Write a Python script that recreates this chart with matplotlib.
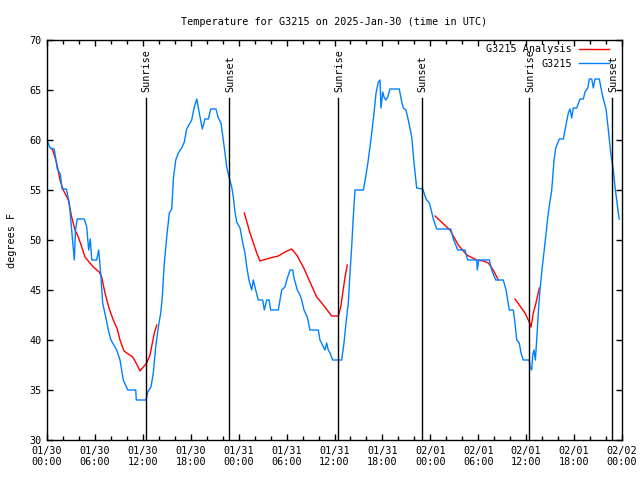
import numpy as np
import matplotlib
matplotlib.use("Agg")
from matplotlib import pyplot as plt
from matplotlib.ticker import MultipleLocator

# hours since 2025-01-30 00:00 UTC
obs_hours = [0.00, 0.38, 0.91, 1.29, 1.67, 1.88, 2.42, 2.79, 3.17, 3.42, 3.57, 3.79,
             4.67, 4.97, 5.22, 5.42, 5.60, 6.22, 6.47, 6.76, 6.97, 7.35, 7.68, 8.01,
             8.73, 9.14, 9.55, 10.11, 11.11, 11.18, 12.40, 12.61, 13.02, 13.31, 13.61,
             13.94, 14.24, 14.44, 14.65, 14.99, 15.31, 15.62, 15.82, 16.12, 16.44,
             16.87, 17.19, 17.49, 18.12, 18.44, 18.75, 19.07, 19.45, 19.78, 20.20,
             20.50, 21.16, 21.45, 21.79, 22.08, 22.29, 22.50, 22.79, 23.13, 23.33,
             23.54, 23.75, 24.17, 24.51, 24.79, 25.01, 25.29, 25.63, 25.83, 26.13,
             26.46, 27.01, 27.21, 27.51, 27.80, 28.01, 28.96, 29.18, 29.39, 29.80,
             30.02, 30.43, 30.77, 30.93, 31.34, 31.68, 31.89, 32.18, 32.59, 32.93,
             33.97, 34.18, 34.81, 35.02, 35.22, 35.44, 35.78, 36.90, 37.19, 37.44,
             37.73, 37.94, 38.15, 38.35, 38.57, 39.61, 39.91, 40.23, 40.66, 40.95,
             41.20, 41.49, 41.70, 41.82, 42.04, 42.20, 42.41, 42.66, 42.95, 44.11,
             44.42, 44.62, 44.95, 45.24, 45.67, 45.96, 46.29, 47.05, 47.46, 47.87,
             48.17, 48.37, 48.80, 50.55, 50.88, 51.43, 52.34, 52.68, 53.81, 53.88,
             54.06, 55.39, 55.68, 56.19, 57.14, 57.48, 57.89, 58.39, 58.60, 58.82,
             59.14, 59.35, 59.64, 60.39, 60.48, 60.69, 60.82, 60.98, 61.15, 61.32,
             61.52, 61.73, 62.02, 62.36, 62.77, 63.20, 63.49, 63.70, 64.15, 64.65,
             64.86, 65.28, 65.49, 65.70, 65.90, 66.33, 66.74, 67.16, 67.37, 67.71,
             67.91, 68.21, 68.41, 68.62, 69.16, 69.46, 69.66, 70.00, 70.29, 70.59,
             70.91, 71.12, 71.34, 71.54, 71.66]
obs_temp = [60.0, 59.2, 59.1, 57.1, 56.6, 55.1, 55.1, 53.7, 50.3, 48.0, 51.0, 52.1,
            52.1, 51.3, 49.0, 50.1, 48.0, 48.0, 49.0, 46.3, 43.7, 42.3, 41.0, 40.0,
            39.0, 38.0, 36.0, 35.0, 35.0, 34.0, 34.0, 34.8, 35.3, 36.7, 39.3,
            41.3, 42.7, 44.3, 47.3, 50.3, 52.7, 53.1, 56.1, 58.0, 58.7,
            59.2, 59.8, 61.1, 62.0, 63.3, 64.1, 62.7, 61.1, 62.1, 62.1,
            63.1, 63.1, 62.2, 61.7, 60.0, 58.7, 57.3, 56.3, 55.3, 54.3,
            52.8, 51.8, 51.2, 49.7, 48.7, 47.3, 46.0, 45.0, 46.0, 45.0,
            44.0, 44.0, 43.0, 44.0, 44.0, 43.0, 43.0, 44.0, 45.0, 45.3,
            46.0, 47.0, 47.0, 46.2, 45.0, 44.5, 44.0, 43.0, 42.3, 41.0,
            41.0, 40.0, 39.0, 39.7, 39.0, 38.7, 38.0, 38.0, 39.7, 41.7,
            43.7, 46.7, 49.3, 52.3, 55.0, 55.0, 56.3, 58.0, 60.7, 62.7,
            64.7, 65.8, 66.0, 63.2, 64.8, 64.3, 64.0, 64.3, 65.1, 65.1,
            63.8, 63.2, 63.0, 62.0, 60.3, 57.7, 55.2, 55.1, 54.1, 53.7,
            52.8, 52.1, 51.1, 51.1, 50.1, 49.0, 49.0, 48.0, 48.0, 47.0,
            48.0, 48.0, 47.0, 46.0, 46.0, 45.0, 43.0, 43.0, 41.7, 40.0,
            39.7, 38.7, 38.0, 38.0, 37.3, 37.0, 38.5, 39.0, 38.0, 40.0,
            42.7, 45.0, 47.3, 49.7, 52.7, 55.0, 58.0, 59.2, 60.1, 60.1,
            61.0, 62.7, 63.1, 62.2, 63.2, 63.2, 64.1, 64.1, 64.8, 65.2,
            66.1, 66.1, 65.2, 66.1, 66.1, 64.8, 64.1, 63.1, 61.0, 58.7,
            57.0, 55.3, 54.0, 52.7, 52.1]

# analysis comes in separate pieces (gaps between them)
ana_hours = [
    [0.59, 0.71, 1.21, 1.63, 2.04, 2.67, 3.09, 3.51, 3.92, 4.35, 4.76, 5.38, 5.80,
     6.55, 6.85, 7.26, 7.76, 8.30, 8.80, 9.14, 9.64, 10.18, 10.73, 11.23, 11.65,
     12.06, 12.48, 12.90, 13.19, 13.44, 13.74],
    [24.71, 25.42, 26.26, 26.67, 27.92, 28.96, 29.80, 30.64, 31.27, 32.09, 32.93,
     33.77, 34.60, 35.65, 36.48, 36.78, 37.03, 37.32, 37.60],
    [48.59, 50.46, 51.50, 52.56, 53.81, 54.63, 55.26, 55.88, 56.51],
    [58.60, 59.85, 60.39, 60.61, 60.89, 61.23, 61.65],
]
ana_temp = [
    [59.1, 59.0, 57.7, 56.0, 55.0, 54.0, 52.3, 51.0, 50.3, 49.3, 48.3, 47.7, 47.3,
     46.8, 46.3, 44.7, 43.2, 42.0, 41.1, 40.0, 38.9, 38.6, 38.3, 37.6, 36.9,
     37.3, 37.7, 38.5, 39.7, 40.7, 41.5],
    [52.7, 50.7, 48.7, 47.9, 48.2, 48.4, 48.8, 49.1, 48.5, 47.3, 45.8,
     44.3, 43.5, 42.4, 42.4, 43.3, 44.7, 46.3, 47.5],
    [52.4, 51.0, 49.5, 48.5, 48.0, 47.9, 47.7, 47.0, 46.0],
    [44.1, 42.7, 41.8, 41.3, 42.7, 43.7, 45.2],
]

sun_hours = [12.40, 22.83, 36.48, 46.92, 60.39, 70.79]
sun_names = ["Sunrise", "Sunset", "Sunrise", "Sunset", "Sunrise", "Sunset"]

tick_labels = ["01/30\n00:00", "01/30\n06:00", "01/30\n12:00", "01/30\n18:00",
               "01/31\n00:00", "01/31\n06:00", "01/31\n12:00", "01/31\n18:00",
               "02/01\n00:00", "02/01\n06:00", "02/01\n12:00", "02/01\n18:00",
               "02/02\n00:00"]

plt.rcParams["font.family"] = "DejaVu Sans Mono"
plt.rcParams["font.size"] = 7.3

fig = plt.figure(figsize=(6.4, 4.8), dpi=100)
ax = fig.add_axes([47 / 640, 40 / 480, 575 / 640, 400 / 480])

for i in range(len(ana_hours)):
    ax.plot(ana_hours[i], ana_temp[i], color="#ff0000", lw=1,
            label="G3215 Analysis" if i == 0 else None)
ax.plot(obs_hours, obs_temp, color="#0080ff", lw=1, label="G3215")

for h, name in zip(sun_hours, sun_names):
    ax.plot([h, h], [30, 64.2], color="black", lw=1)
    ax.text(h + 0.1, 64.8, name, rotation=90, ha="center", va="bottom")

ax.set_xlim(0, 72)
ax.set_ylim(30, 70)
ax.set_xticks(np.arange(0, 73, 6))
ax.set_xticklabels(tick_labels)
ax.xaxis.set_minor_locator(MultipleLocator(2))
ax.set_yticks(np.arange(30, 71, 5))
ax.tick_params(which="both", direction="in", top=True, right=True, length=4, width=1, pad=4)
ax.tick_params(which="minor", length=3)
for s in ax.spines.values():
    s.set_linewidth(1)

ax.set_ylabel("degrees F", labelpad=9)
ax.set_title("Temperature for G3215 on 2025-Jan-30 (time in UTC)", fontsize=7.3, pad=11)

ax.legend(loc="upper right", frameon=False, markerfirst=False, handlelength=3.0,
          handletextpad=0.7, labelspacing=0.45, borderaxespad=0.2, borderpad=0.2,
          bbox_to_anchor=(0.985, 1.0))

fig.savefig("out.png", dpi=100)
